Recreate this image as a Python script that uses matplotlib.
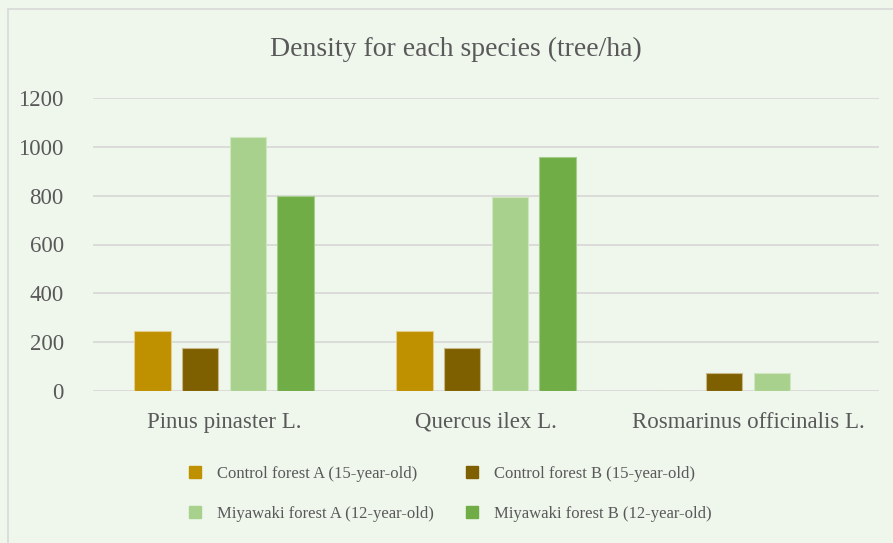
import matplotlib.pyplot as plt
from matplotlib.lines import Line2D
from matplotlib.patches import Rectangle
import numpy as np

species = ["Pinus pinaster L.", "Quercus ilex L.", "Rosmarinus officinalis L."]
series_names = [
    "Control forest A (15-year-old)",
    "Control forest B (15-year-old)",
    "Miyawaki forest A (12-year-old)",
    "Miyawaki forest B (12-year-old)",
]
control_a = [245, 245, 0]
control_b = [175, 175, 75]
miyawaki_a = [1040, 795, 75]
miyawaki_b = [800, 958, 0]
yticks = [0, 200, 400, 600, 800, 1000, 1200]

colors = ["#BF9000", "#7F6000", "#A9D18E", "#70AD47"]
edges = ["#E3CD8A", "#C9B98A", "#CFE6BF", "#A6CD8C"]
bg = "#EFF7ED"
txt = "#595959"

fig = plt.figure(figsize=(8.93, 5.43), dpi=100, facecolor=bg)
fig.patches.append(Rectangle((8 / 893, -0.1), 1.2, 1 - 9 / 543 + 0.1,
                             transform=fig.transFigure, fill=False,
                             edgecolor="#D9D9D9", linewidth=1.2))

ax = fig.add_axes([93 / 893, 1 - 391 / 543, 786 / 893, 293 / 543])
ax.set_facecolor(bg)

x = np.arange(len(species))
pitch = 0.183
width = 0.141
for i, vals in enumerate([control_a, control_b, miyawaki_a, miyawaki_b]):
    ax.bar(x + (i - 1.5) * pitch, vals, width, color=colors[i],
           edgecolor=edges[i], linewidth=0.8, zorder=3)

ax.set_xlim(-0.5, 2.5)
ax.set_ylim(0, 1200)
ax.set_yticks(yticks)
ax.set_xticks(x)
ax.set_xticklabels(species)
ax.grid(axis="y", color="#D9D9D9", linewidth=1.3, zorder=0)
for s in ax.spines.values():
    s.set_visible(False)
ax.tick_params(axis="both", length=0, labelsize=16.5, colors=txt)
ax.tick_params(axis="y", pad=21)
ax.tick_params(axis="x", pad=15)
for lab in ax.get_xticklabels() + ax.get_yticklabels():
    lab.set_family("Liberation Serif")

fig.text(0.51, 1 - 49 / 543, "Density for each species (tree/ha)",
         ha="center", va="center", fontsize=20, color=txt,
         family="Liberation Serif")

# legend is filled row by row in the reference
handles = [Line2D([], [], marker="s", linestyle="none", markersize=8,
                  markerfacecolor=c, markeredgecolor=c) for c in colors]
order = [0, 2, 1, 3]
fig.legend([handles[i] for i in order], [series_names[i] for i in order],
           loc="center", bbox_to_anchor=(0.503, 0.091),
           ncol=2, frameon=False, prop={"family": "Liberation Serif", "size": 12},
           labelcolor=txt, handlelength=1.0, handletextpad=0.8,
           columnspacing=1.8, labelspacing=1.45)

fig.savefig("out.png", dpi=100, facecolor=bg)
